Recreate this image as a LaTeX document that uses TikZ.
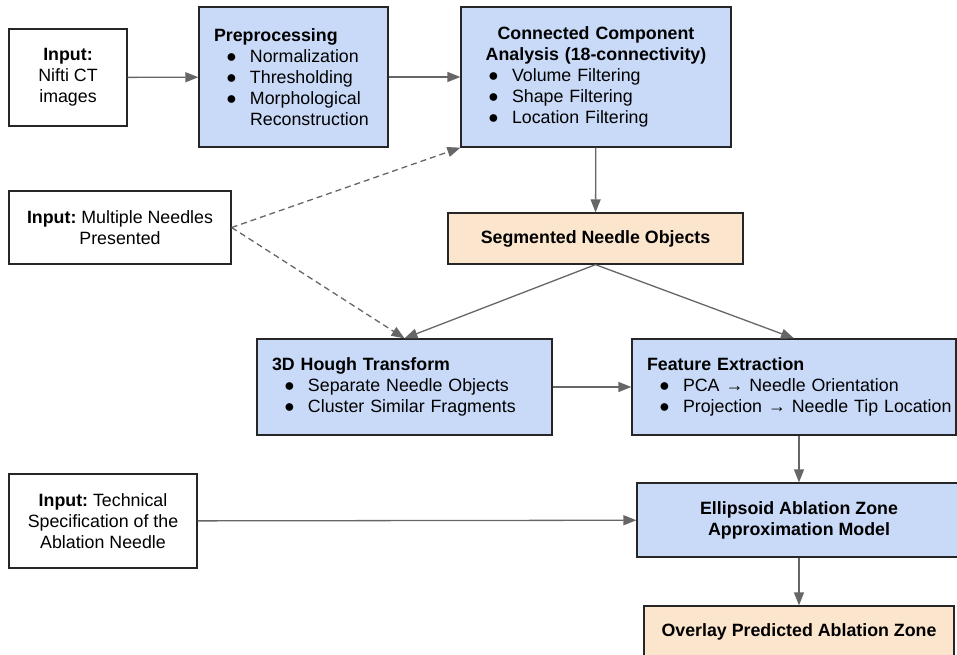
\documentclass[tikz,border=0pt]{standalone}
\usepackage{fontspec}
\setmainfont{Liberation Sans}
\usetikzlibrary{arrows.meta}
\definecolor{boxblue}{HTML}{C9DAF8}
\definecolor{boxorange}{HTML}{FCE5CD}
\definecolor{linegray}{HTML}{666666}
\newcommand{\bul}{\hspace*{12pt}\makebox[24pt][l]{●}}
\newcommand{\cont}{\hspace*{36pt}}
\newcommand{\ctitle}[1]{\makebox[\hsize][c]{\bfseries #1}}
\begin{document}
\begin{tikzpicture}
[
    x=1pt, y=-1pt,
    every node/.style={font=\fontsize{17.8}{21}\selectfont, draw=black!85, line width=1.3pt, inner sep=0pt},
    inbox/.style={align=center},
    listbox/.style={fill=boxblue, align=left, inner xsep=15pt},
    bluebox/.style={fill=boxblue, align=center, font=\fontsize{17.8}{21}\selectfont\bfseries},
    orangebox/.style={fill=boxorange, align=center, font=\fontsize{17.8}{21}\selectfont\bfseries},
    arrow/.style={draw=linegray, line width=1.3pt, -{Triangle[length=13pt,width=10pt]}},
    dasharrow/.style={arrow, dash pattern=on 6pt off 4pt},
]
\useasboundingbox (0,0) rectangle (957,654);
\clip (0,0) rectangle (957,654);

% inputs
\node[inbox, minimum width=118pt, minimum height=97pt] (nifti) at (68,77.5)
    {\textbf{Input:}\\Nifti CT\\images};
\node[inbox, minimum width=222pt, minimum height=73pt] (multi) at (120,227.5)
    {\textbf{Input:}~Multiple Needles\\Presented};
\node[inbox, minimum width=188pt, minimum height=94pt] (spec) at (103,521)
    {\textbf{Input:}~Technical\\Specification of the\\Ablation Needle};

% processing steps
\node[listbox, text width=159pt, minimum height=140pt] (prep) at (293.5,77)
    {\textbf{Preprocessing}\\
     \bul Normalization\\
     \bul Thresholding\\
     \bul Morphological\\
     \cont Reconstruction};
\node[listbox, text width=240pt, minimum height=140pt] (cca) at (596,77)
    {\ctitle{Connected Component}\\
     \ctitle{Analysis (18-connectivity)}\\
     \bul Volume Filtering\\
     \bul Shape Filtering\\
     \bul Location Filtering};
\node[orangebox, minimum width=295pt, minimum height=51pt] (seg) at (595.5,238.5)
    {Segmented Needle Objects};
\node[listbox, text width=265pt, minimum height=96pt] (hough) at (404.5,387)
    {\textbf{3D Hough Transform}\\
     \bul Separate Needle Objects\\
     \bul Cluster Similar Fragments};
\node[listbox, text width=294pt, minimum height=96pt] (feat) at (794,387)
    {\textbf{Feature Extraction}\\
     \mbox{\bul PCA → Needle Orientation}\\
     \mbox{\bul Projection → Needle Tip Location}};
\node[bluebox, minimum width=324pt, minimum height=74pt] (ell) at (799,520)
    {Ellipsoid Ablation Zone\\Approximation Model};
\node[orangebox, minimum width=310pt, minimum height=52pt] (over) at (799,632)
    {Overlay Predicted Ablation Zone};

% connectors
\draw[arrow] (nifti) -- (prep);
\draw[arrow] (prep) -- (cca);
\draw[arrow] (cca) -- (seg);
\draw[arrow] (seg.south) -- (hough.north);
\draw[arrow] (seg.south) -- (feat.north);
\draw[arrow] (hough) -- (feat);
\draw[arrow] (ell.north |- feat.south) -- (ell.north);
\draw[arrow] (ell) -- (over);
\draw[arrow] (spec) -- (ell);
\draw[dasharrow] (multi.east) -- (cca.south west);
\draw[dasharrow] (multi.east) -- (hough.north);
\end{tikzpicture}
\end{document}
